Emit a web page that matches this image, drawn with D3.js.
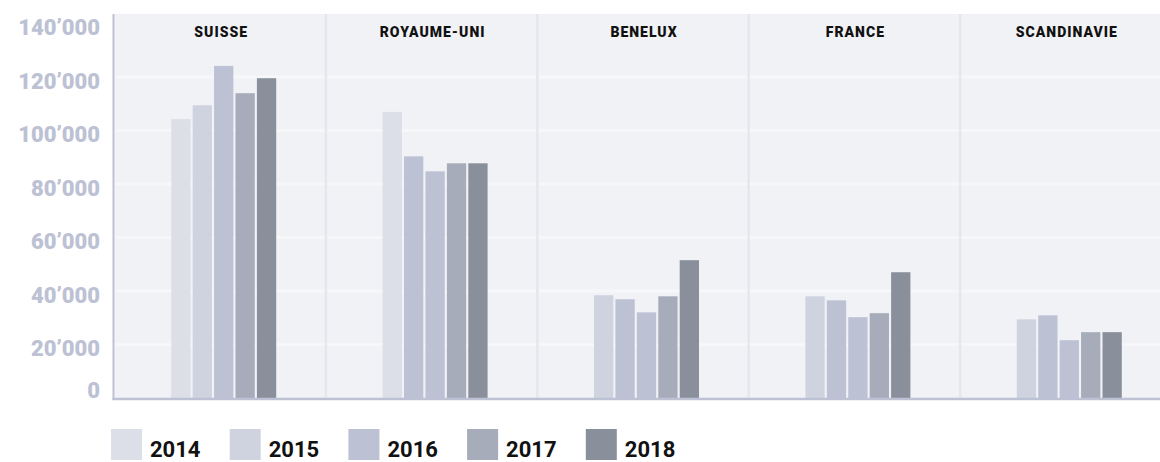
<!DOCTYPE html>
<html>
<head>
<meta charset="utf-8">
<script src="https://cdn.jsdelivr.net/npm/d3@7"></script>
<style>
  body { margin: 0; background: #fff; }
  svg { display: block; font-family: Roboto, "DejaVu Sans", sans-serif; }
</style>
</head>
<body>
<div id="chart"></div>
<script>
const WIDTH = 1160, HEIGHT = 462;

const regions = ["SUISSE", "ROYAUME-UNI", "BENELUX", "FRANCE", "SCANDINAVIE"];
const years = ["2014", "2015", "2016", "2017", "2018"];
const values2014 = [104200, 106900, 38400, 38000, 29400];
const values2015 = [109400, 90300, 36900, 36500, 30900];
const values2016 = [124100, 84700, 32000, 30200, 21600];
const values2017 = [113900, 87700, 38000, 31700, 24600];
const values2018 = [119500, 87700, 51500, 47000, 24600];
const yTicks = [0, 20000, 40000, 60000, 80000, 100000, 120000, 140000];

const series = [values2014, values2015, values2016, values2017, values2018];
const data = regions.map((r, i) => ({
    region: r,
    values: years.map((y, j) => ({ year: y, value: series[j][i] }))
}));

const COLORS = ["#dcdee8", "#cfd3e0", "#bcc1d4", "#a7acbb", "#8a8f9c"];
// shades as they appear per panel in the original
const SHADE = {
    "SUISSE": [0, 1, 2, 3, 4],
    "ROYAUME-UNI": [0, 2, 2, 3, 4],
    "BENELUX": [1, 2, 2, 3, 4],
    "FRANCE": [1, 2, 2, 3, 4],
    "SCANDINAVIE": [1, 2, 2, 3, 4]
};

const PLOT = { left: 114.5, top: 14, bottom: 398, panelW: 211.4 };

const svg = d3.select("#chart")
    .append("svg")
    .attr("width", WIDTH)
    .attr("height", HEIGHT);

const x0 = d3.scaleBand()
    .domain(regions)
    .range([PLOT.left, PLOT.left + PLOT.panelW * regions.length]);

const x1 = d3.scaleBand()
    .domain(years)
    .range([-49, 56])
    .paddingInner(0.1);

const y = d3.scaleLinear()
    .domain([0, 143500])
    .range([PLOT.bottom, PLOT.top]);

// background
svg.append("rect")
    .attr("x", PLOT.left)
    .attr("y", PLOT.top)
    .attr("width", WIDTH - PLOT.left)
    .attr("height", PLOT.bottom - PLOT.top)
    .attr("fill", "#f1f2f6");

// grid lines
svg.selectAll("line.grid")
    .data(yTicks.filter(t => t > 0 && t < 140000))
    .join("line")
    .attr("class", "grid")
    .attr("x1", PLOT.left)
    .attr("x2", WIDTH)
    .attr("y1", d => y(d))
    .attr("y2", d => y(d))
    .attr("stroke", "#f7f7fa")
    .attr("stroke-width", 3);

// panel dividers
svg.selectAll("line.divider")
    .data(regions.slice(1))
    .join("line")
    .attr("class", "divider")
    .attr("x1", d => x0(d))
    .attr("x2", d => x0(d))
    .attr("y1", PLOT.top)
    .attr("y2", PLOT.bottom)
    .attr("stroke", "#e6e7ee")
    .attr("stroke-width", 2.5);

// panel titles
svg.selectAll("text.region")
    .data(regions)
    .join("text")
    .attr("class", "region")
    .attr("x", d => x0(d) + x0.bandwidth() / 2 + 1)
    .attr("y", 32.5)
    .attr("dy", "0.35em")
    .attr("text-anchor", "middle")
    .style("font-size", "14px")
    .style("font-weight", "900")
    .style("letter-spacing", "1px")
    .style("fill", "#111")
    .text(d => d);

// bars
const groups = svg.selectAll("g.group")
    .data(data)
    .join("g")
    .attr("class", "group")
    .attr("transform", d => `translate(${x0(d.region) + x0.bandwidth() / 2},0)`);

groups.selectAll("rect")
    .data(d => d.values.map((v, j) => ({ ...v, region: d.region, j })))
    .join("rect")
    .attr("x", d => x1(d.year))
    .attr("y", d => y(d.value))
    .attr("width", x1.bandwidth())
    .attr("height", d => y(0) - y(d.value))
    .attr("fill", d => COLORS[SHADE[d.region][d.j]]);

// axes lines
svg.append("line")
    .attr("x1", PLOT.left - 1)
    .attr("x2", PLOT.left - 1)
    .attr("y1", PLOT.top)
    .attr("y2", PLOT.bottom + 2)
    .attr("stroke", "#bcc1d4")
    .attr("stroke-width", 2);

svg.append("line")
    .attr("x1", PLOT.left - 2)
    .attr("x2", WIDTH)
    .attr("y1", PLOT.bottom + 1)
    .attr("y2", PLOT.bottom + 1)
    .attr("stroke", "#bcc1d4")
    .attr("stroke-width", 2.5);

// y tick labels
const fmt = v => d3.format(",")(v).replace(/,/g, "\u2019");
svg.selectAll("text.ytick")
    .data(yTicks)
    .join("text")
    .attr("class", "ytick")
    .attr("x", 100)
    .attr("y", d => Math.min(Math.max(y(d) + 4, 26), 390))
    .attr("dy", "0.35em")
    .attr("text-anchor", "end")
    .style("font-size", "22px")
    .style("font-weight", "900")
    .style("fill", "#bcc1d4")
    .text(fmt);

// legend
const legend = svg.selectAll("g.legend")
    .data(years)
    .join("g")
    .attr("class", "legend")
    .attr("transform", (d, i) => `translate(${111 + i * 118.7},429)`);

legend.append("rect")
    .attr("width", 31)
    .attr("height", 31)
    .attr("fill", (d, i) => COLORS[i]);

legend.append("text")
    .attr("x", 39)
    .attr("y", 28)
    .style("font-size", "22px")
    .style("font-weight", "bold")
    .style("fill", "#111")
    .text(d => d);
</script>
</body>
</html>
